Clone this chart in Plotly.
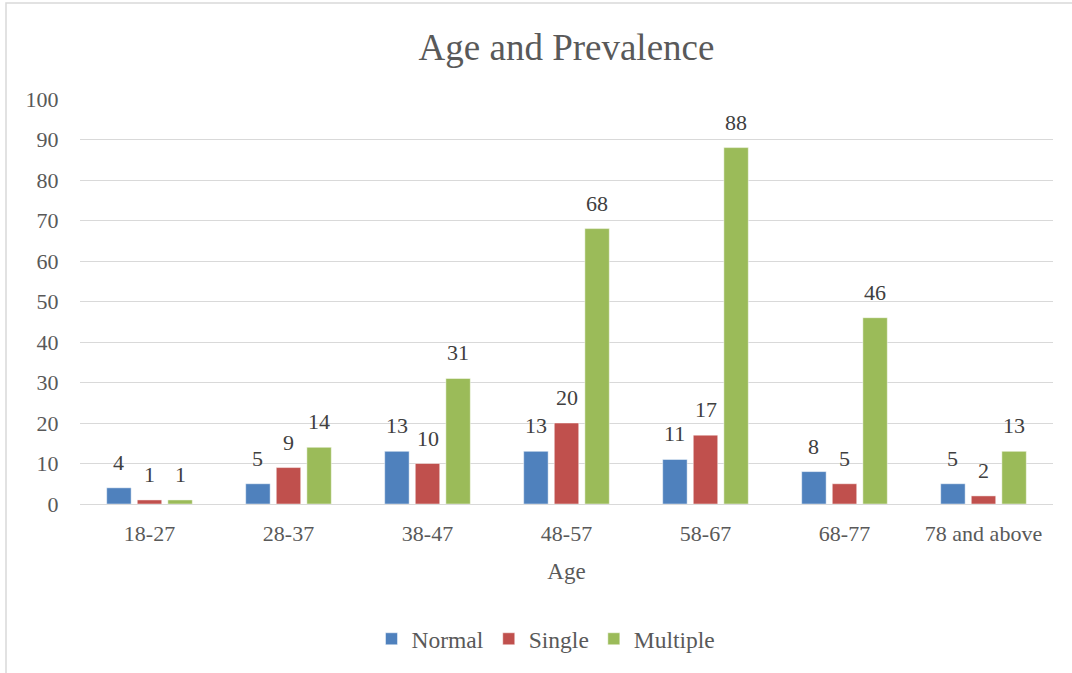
import plotly.graph_objects as go

# Age bands and case counts per group
age_groups = ["18-27", "28-37", "38-47", "48-57", "58-67", "68-77", "78 and above"]
normal = [4, 5, 13, 13, 11, 8, 5]
single = [1, 9, 10, 20, 17, 5, 2]
multiple = [1, 14, 31, 68, 88, 46, 13]

series = [
    ("Normal", normal, "#4F81BD"),
    ("Single", single, "#C0504D"),
    ("Multiple", multiple, "#9BBB59"),
]

FONT = "Liberation Serif"
TEXT = "#595959"

W, H = 1072, 673
M_L, M_R, M_T, M_B = 80, 19, 99, 169
plot_w = W - M_L - M_R
plot_h = H - M_T - M_B
cat_w = plot_w / len(age_groups)
slot = cat_w * (1 - 0.34) / 3

fig = go.Figure()
annotations = []
for i, (name, vals, color) in enumerate(series):
    fig.add_trace(go.Bar(
        name=name, x=age_groups, y=vals,
        marker=dict(color=color, line=dict(color="rgba(255,255,255,0.6)", width=0.8)),
    ))
    # value labels above each bar
    for cat, v in zip(age_groups, vals):
        annotations.append(dict(
            x=cat, y=v, xref="x", yref="y", text=str(v), showarrow=False,
            xanchor="center", yanchor="bottom", xshift=(i - 1) * slot, yshift=11,
            font=dict(family=FONT, size=22, color="#404040"),
        ))

# chart outline
px_to_x = lambda p: (p - M_L) / plot_w
px_to_y = lambda p: (H - M_B - p) / plot_h
shapes = [dict(
    type="rect", xref="paper", yref="paper",
    x0=px_to_x(6), x1=px_to_x(W + 10), y0=px_to_y(H + 10), y1=px_to_y(3),
    line=dict(color="#D9D9D9", width=1.5), fillcolor="rgba(0,0,0,0)", layer="below",
)]

fig.update_layout(
    width=W, height=H,
    margin=dict(l=M_L, r=M_R, t=M_T, b=M_B),
    paper_bgcolor="white", plot_bgcolor="white",
    barmode="group", bargap=0.34, bargroupgap=0.2,
    title=dict(text="Age and Prevalence", x=0.5, xref="paper", xanchor="center",
               y=1 - 47 / H, yanchor="middle", yref="container",
               font=dict(family=FONT, size=37, color=TEXT)),
    font=dict(family=FONT, size=22, color=TEXT),
    xaxis=dict(
        title=dict(text="Age", font=dict(family=FONT, size=23, color=TEXT), standoff=17),
        tickfont=dict(family=FONT, size=22, color=TEXT),
        showgrid=False, showline=False, zeroline=False,
        ticks="outside", ticklen=10, tickcolor="rgba(0,0,0,0)",
    ),
    yaxis=dict(
        range=[0, 100], dtick=10, tick0=0,
        tickfont=dict(family=FONT, size=22, color=TEXT),
        showgrid=True, gridcolor="#D9D9D9", gridwidth=1,
        zeroline=True, zerolinecolor="#D9D9D9", zerolinewidth=1,
        showline=False, ticks="outside", ticklen=16, tickcolor="rgba(0,0,0,0)",
    ),
    legend=dict(
        orientation="h", x=px_to_x(546), xanchor="center",
        y=px_to_y(639), yanchor="middle",
        font=dict(family=FONT, size=23.5, color=TEXT),
        itemwidth=30, traceorder="normal",
    ),
    annotations=annotations,
    shapes=shapes,
)

fig.write_html("out.html")
